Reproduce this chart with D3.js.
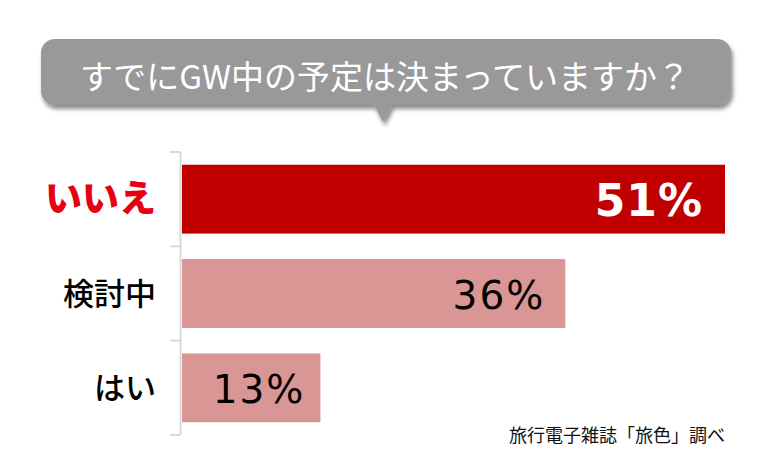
<!DOCTYPE html>
<html><head><meta charset="utf-8">
<script src="https://cdn.jsdelivr.net/npm/d3@7"></script>
<style>html,body{margin:0;padding:0;background:#fff;}svg{display:block;}</style>
</head><body>
<svg id="c" width="774" height="464"></svg>
<script>
const title = "すでにGW中の予定は決まっていますか？";
const categories = ["いいえ", "検討中", "はい"];
const values = [51, 36, 13];
const valueLabels = ["51%", "36%", "13%"];
const source = "旅行電子雑誌「旅色」調べ";

const svg = d3.select("#c");
const defs = svg.append("defs");
const f = defs.append("filter").attr("id","sh").attr("x","-10%").attr("y","-20%").attr("width","120%").attr("height","160%");
f.append("feDropShadow").attr("dx",2).attr("dy",4).attr("stdDeviation",2.2).attr("flood-color","#000").attr("flood-opacity",0.45);

// speech bubble
const bx0=41,bx1=731,by0=39,by1=105,r=14,px=383,pw=9,ptip=122;
const p = d3.path();
p.moveTo(bx0+r,by0);
p.lineTo(bx1-r,by0); p.arcTo(bx1,by0,bx1,by0+r,r);
p.lineTo(bx1,by1-r); p.arcTo(bx1,by1,bx1-r,by1,r);
p.lineTo(px+pw,by1); p.lineTo(px,ptip); p.lineTo(px-pw,by1);
p.lineTo(bx0+r,by1); p.arcTo(bx0,by1,bx0,by1-r,r);
p.lineTo(bx0,by0+r); p.arcTo(bx0,by0,bx0+r,by0,r);
p.closePath();
svg.append("path").attr("d",p.toString()).attr("fill","#999999").attr("filter","url(#sh)");
svg.append("text").attr("x",385).attr("y",89).attr("text-anchor","middle")
  .attr("font-family","'Noto Sans CJK JP','Noto Sans',sans-serif").attr("font-size",33)
  .attr("fill","#fff").text(title);

// scales
const y = d3.scaleBand().domain(categories).range([152,435]).paddingInner(0.27).paddingOuter(0.135);
const x = d3.scaleLinear().domain([0, d3.max(values)]).range([182,725]);
const axisX = 180.5;

// axis
const ag = svg.append("g").attr("stroke","#d9d9d9").attr("stroke-width",2);
ag.append("line").attr("x1",axisX).attr("x2",axisX).attr("y1",152).attr("y2",435);
const bounds = categories.map(c=>y(c)-y.step()*y.paddingInner()/2).concat([435]);
bounds[0]=152;
ag.selectAll("line.t").data(bounds).join("line").attr("class","t")
  .attr("x1",170).attr("x2",axisX).attr("y1",d=>d).attr("y2",d=>d);

// bars
const colors = ["#c00000","#d99694","#d99694"];
svg.append("g").selectAll("rect").data(values).join("rect")
  .attr("x",x(0)).attr("y",(d,i)=>y(categories[i]))
  .attr("width",d=>x(d)-x(0)).attr("height",y.bandwidth())
  .attr("fill",(d,i)=>colors[i]);

// value labels
svg.append("g").selectAll("text").data(values).join("text")
  .attr("x",d=>x(d)-(d>40?22:d>20?20:15))
  .attr("y",(d,i)=>y(categories[i])+y.bandwidth()/2)
  .attr("dy",(d,i)=>i===0?"0.38em":"0.4em")
  .attr("text-anchor","end")
  .attr("font-family","'DejaVu Sans',sans-serif")
  .attr("font-weight",(d,i)=>i===0?"bold":"normal")
  .attr("font-size",(d,i)=>i===0?44:39)
  .attr("letter-spacing",(d,i)=>i===0?1:2)
  .attr("fill",(d,i)=>i===0?"#fff":"#000")
  .text((d,i)=>valueLabels[i]);

// category labels
svg.append("g").selectAll("text").data(categories).join("text")
  .attr("x",156)
  .attr("y",d=>y(d)+y.bandwidth()/2)
  .attr("dy","0.36em")
  .attr("text-anchor","end")
  .attr("font-family","'Noto Sans CJK JP',sans-serif")
  .attr("font-weight",(d,i)=>i===0?"900":"500")
  .attr("font-size",(d,i)=>i===0?37:31)
  .attr("fill",(d,i)=>i===0?"#e60012":"#000")
  .text(d=>d);

svg.append("text").attr("x",725).attr("y",442).attr("text-anchor","end")
  .attr("font-family","'Noto Sans CJK JP',sans-serif").attr("font-size",18)
  .attr("fill","#111").text(source);
</script>
</body></html>
